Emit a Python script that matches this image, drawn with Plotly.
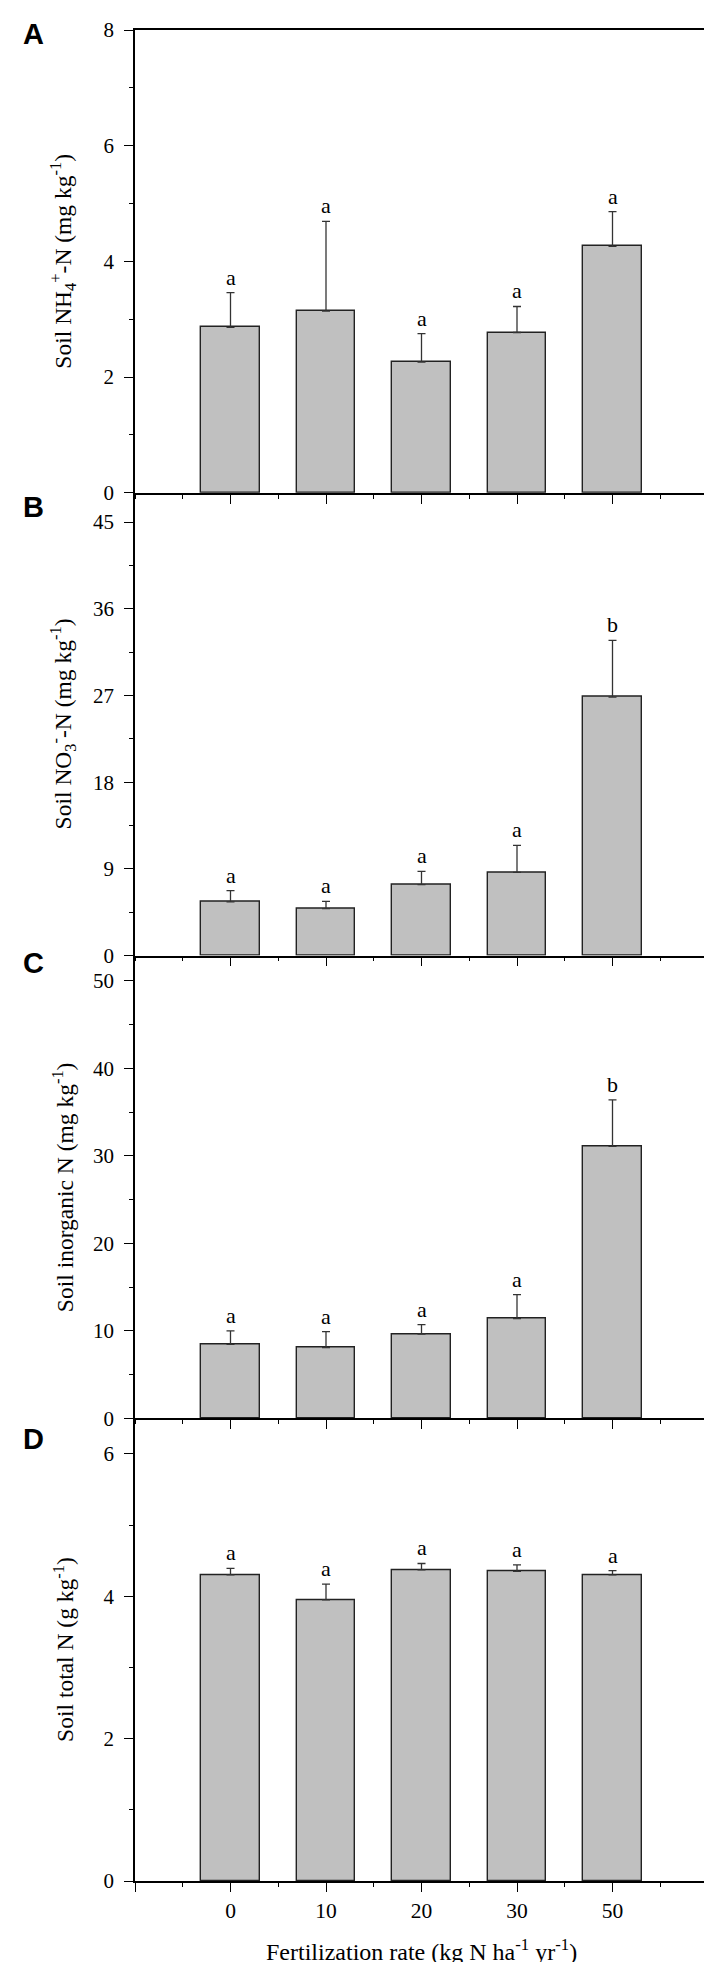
import plotly.graph_objects as go
from plotly.subplots import make_subplots

# fertilization rate (kg N ha-1 yr-1)
treatments = ["0", "10", "20", "30", "50"]

# A - soil NH4+-N (mg kg-1)
nh4_mean = [2.86, 3.14, 2.26, 2.77, 4.26]
nh4_err = [0.60, 1.55, 0.49, 0.45, 0.60]
nh4_letters = ["a", "a", "a", "a", "a"]

# B - soil NO3--N (mg kg-1)
no3_mean = [5.56, 4.87, 7.35, 8.63, 26.83]
no3_err = [1.17, 0.76, 1.39, 2.80, 5.90]
no3_letters = ["a", "a", "a", "a", "b"]

# C - soil inorganic N (mg kg-1)
inorg_mean = [8.45, 8.07, 9.63, 11.39, 31.07]
inorg_err = [1.53, 1.83, 1.07, 2.74, 5.33]
inorg_letters = ["a", "a", "a", "a", "b"]

# D - soil total N (g kg-1)
total_mean = [4.30, 3.95, 4.37, 4.35, 4.30]
total_err = [0.09, 0.22, 0.09, 0.09, 0.06]
total_letters = ["a", "a", "a", "a", "a"]

SERIF = "Liberation Serif"
SANS = "Liberation Sans"

W, H = 712, 1962
ML, MR, MT, MB = 127, 10, 22, 89
plot_w = W - ML - MR

panels = [
    dict(mean=nh4_mean, err=nh4_err, letters=nh4_letters, rng=[0, 8], dtick=2, minor=1,
         title="Soil NH<sub>4</sub><sup>+</sup>-N (mg kg<sup>-1</sup>)", tag="A", tag_dy=4),
    dict(mean=no3_mean, err=no3_err, letters=no3_letters, rng=[0, 48.05], dtick=9, minor=4.5,
         title="Soil NO<sub>3</sub><sup>-</sup>-N (mg kg<sup>-1</sup>)", tag="B", tag_dy=14),
    dict(mean=inorg_mean, err=inorg_err, letters=inorg_letters, rng=[0, 52.9], dtick=10, minor=5,
         title="Soil inorganic N (mg kg<sup>-1</sup>)", tag="C", tag_dy=7),
    dict(mean=total_mean, err=total_err, letters=total_letters, rng=[0, 6.5], dtick=2, minor=1,
         title="Soil total N (g kg<sup>-1</sup>)", tag="D", tag_dy=21),
]

xpos = [i + 1 for i in range(len(treatments))]

fig = make_subplots(rows=4, cols=1, vertical_spacing=0)

annotations = []
for i, p in enumerate(panels):
    row = i + 1
    fig.add_trace(go.Bar(
        x=xpos, y=p["mean"], width=0.61,
        marker=dict(color="#c0c0c0", line=dict(color="#222222", width=1.4)),
        error_y=dict(type="data", symmetric=False, array=p["err"],
                     arrayminus=[0] * len(p["err"]),
                     color="#333333", thickness=1.3, width=4),
        showlegend=False,
    ), row=row, col=1)

    xa = "x" if row == 1 else "x%d" % row
    ya = "y" if row == 1 else "y%d" % row

    # significance letters above the error bars
    for xv, m, e, lt in zip(xpos, p["mean"], p["err"], p["letters"]):
        annotations.append(dict(
            x=xv, y=m + e, xref=xa, yref=ya, text=lt, showarrow=False,
            yanchor="bottom", yshift=1, font=dict(family=SERIF, size=22, color="black")))

    # y axis title
    annotations.append(dict(
        x=(55 - ML) / plot_w, y=0.5, xref="paper", yref=ya + " domain",
        text=p["title"], textangle=-90, showarrow=False,
        xanchor="center", yanchor="middle",
        font=dict(family=SERIF, size=23.5, color="black")))

    # panel tag
    annotations.append(dict(
        x=(25 - ML) / plot_w, y=1, xref="paper", yref=ya + " domain",
        text="<b>%s</b>" % p["tag"], showarrow=False,
        xanchor="center", yanchor="middle", yshift=-p["tag_dy"],
        font=dict(family=SANS, size=29, color="black")))

    fig.update_yaxes(
        range=p["rng"], dtick=p["dtick"], tick0=0,
        ticks="outside", ticklen=9, tickwidth=1.3, tickcolor="black",
        showline=True, linecolor="black", linewidth=1.5, mirror=True,
        showgrid=False, zeroline=False,
        tickfont=dict(family=SERIF, size=21, color="black"),
        ticklabelstandoff=6,
        minor=dict(ticks="outside", ticklen=4, tickwidth=1.2, tickcolor="black",
                   dtick=p["minor"], tick0=0, showgrid=False),
        row=row, col=1)

    fig.update_xaxes(
        range=[0, 6], tickmode="array",
        tickvals=[0] + xpos + [6], ticktext=[""] + treatments + [""],
        ticks="outside", ticklen=9, tickwidth=1.3, tickcolor="black",
        showline=True, linecolor="black", linewidth=1.6, mirror=(row == 1),
        showgrid=False, zeroline=False,
        showticklabels=(row == 4),
        tickfont=dict(family=SERIF, size=21.5, color="black"),
        minor=dict(ticks="outside", ticklen=4, tickwidth=1.2, tickcolor="black",
                   dtick=0.5, tick0=0, showgrid=False),
        row=row, col=1)

# x axis title
annotations.append(dict(
    x=0.5, y=0, xref="paper", yref="paper", yshift=-69,
    text="Fertilization rate (kg N ha<sup>-1</sup> yr<sup>-1</sup>)", showarrow=False,
    xanchor="center", yanchor="middle",
    font=dict(family=SERIF, size=24, color="black")))

fig.update_layout(
    width=W, height=H,
    margin=dict(l=ML, r=MR, t=MT, b=MB),
    paper_bgcolor="white", plot_bgcolor="white",
    annotations=annotations,
    bargap=0,
)

fig.write_html("out.html")
